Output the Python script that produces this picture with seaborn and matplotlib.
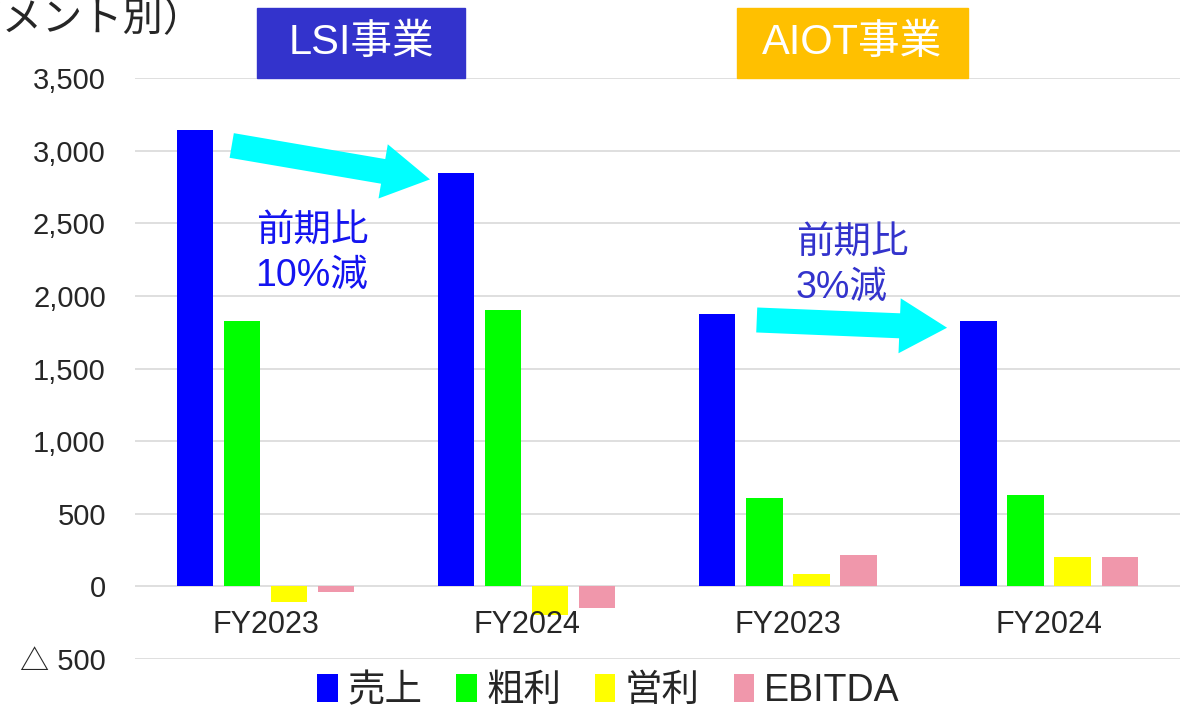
import matplotlib
matplotlib.use("Agg")
import matplotlib.pyplot as plt
from matplotlib.patches import Rectangle
import numpy as np
import pandas as pd
import seaborn as sns

# data
segments = ["LSI事業", "LSI事業", "AIOT事業", "AIOT事業"]
periods = ["FY2023", "FY2024", "FY2023", "FY2024"]
series_names = ["売上", "粗利", "営利", "EBITDA"]
sales = [3145, 2845, 1875, 1830]
gross_profit = [1830, 1905, 610, 630]
operating_profit = [-110, -195, 85, 200]
ebitda = [-40, -145, 220, 205]
y_ticks = [-500, 0, 500, 1000, 1500, 2000, 2500, 3000, 3500]

colors = ["#0000FF", "#00FF00", "#FFFF00", "#F097AB"]

sns.set_theme(style="white")
plt.rcParams["font.family"] = ["Liberation Sans", "Noto Sans CJK JP"]

keys = [f"{s} {p}" for s, p in zip(segments, periods)]
rows = []
for name, vals in zip(series_names, [sales, gross_profit, operating_profit, ebitda]):
    for k, v in zip(keys, vals):
        rows.append({"key": k, "series": name, "value": v})
df = pd.DataFrame(rows)

fig = plt.figure(figsize=(11.88, 7.11), dpi=100)
ax = fig.add_axes([0.1136, 0.073, 0.8794, 0.817])

sns.barplot(data=df, x="key", y="value", hue="series", order=keys,
            hue_order=series_names, palette=colors, width=0.72, gap=0.23,
            linewidth=0, saturation=1, ax=ax, legend=True)

ax.set_ylim(-500, 3500)
ax.set_xlim(-0.5, 3.5)
ax.set_yticks(y_ticks)
ax.set_yticklabels(["△ 500" if t < 0 else f"{t:,}" for t in y_ticks], fontsize=21)
ax.tick_params(axis="y", length=0, pad=21)
ax.set_xticks([])
ax.set_xlabel("")
ax.set_ylabel("")
ax.yaxis.grid(True, color="#D9D9D9", linewidth=1.2)
ax.set_axisbelow(True)
for sp in ax.spines.values():
    sp.set_visible(False)

# period labels sit inside the plot just under zero line
for i, p in enumerate(periods):
    ax.text(i, -265, p, ha="center", va="center", fontsize=22)

# legend
handles, labels = ax.get_legend_handles_labels()
ax.get_legend().remove()
fig.legend(handles, labels, loc="lower center", bbox_to_anchor=(0.512, -0.045),
           ncol=4, frameon=False, fontsize=27, handlelength=0.55, handleheight=0.75,
           handletextpad=0.25, columnspacing=0.9)

# arrows
arrow_style = "simple,head_width=2.2,head_length=1.9,tail_width=1.0"
ax.annotate("", xy=(0.64, 2800), xytext=(-0.14, 3040),
            arrowprops=dict(arrowstyle=arrow_style, mutation_scale=18,
                            color="#00FFFF", linewidth=0))
ax.annotate("", xy=(2.62, 1781), xytext=(1.87, 1836),
            arrowprops=dict(arrowstyle=arrow_style, mutation_scale=18,
                            color="#00FFFF", linewidth=0))

ax.text(-0.038, 2290, "前期比\n10%減", color="#1414F0", fontsize=27,
        ha="left", va="center", linespacing=1.3)
ax.text(2.03, 2210, "前期比\n3%減", color="#3333CC", fontsize=27,
        ha="left", va="center", linespacing=1.3)

# segment header boxes
W, H = 1188, 711
for (x0, x1, color, label) in [(257, 465, "#3333CC", "LSI事業"), (737, 968, "#FFC000", "AIOT事業")]:
    fig.patches.append(Rectangle((x0 / W, 1 - 78 / H), (x1 - x0) / W, 70 / H,
                                 transform=fig.transFigure, color=color, zorder=5))
    fig.text((x0 + x1) / 2 / W, 1 - 43 / H, label, color="white", fontsize=30,
             ha="center", va="center", zorder=6)

# clipped title at top-left
fig.text(203 / W, 1 - 20 / H, "（セグメント別）", fontsize=29, ha="right", va="center")

fig.savefig("out.png", dpi=100)
